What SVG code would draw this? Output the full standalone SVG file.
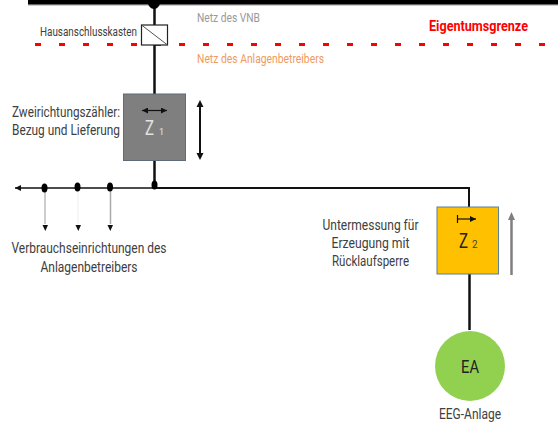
<svg xmlns="http://www.w3.org/2000/svg" width="558" height="427" viewBox="0 0 558 427">
<style>
text{font-family:Roboto,"Noto Sans","Liberation Sans",sans-serif;font-size:12px;fill:#404040}
.c{text-anchor:middle}
.w{fill:none;stroke:#111;stroke-width:2.5}
.t{fill:none;stroke:#111;stroke-width:1.2}
</style>
<defs>
<marker id="a" markerUnits="userSpaceOnUse" markerWidth="7" markerHeight="6" refX="6" refY="3" orient="auto-start-reverse"><path d="M0 0L6 3L0 6Z" fill="#111"/></marker>
</defs>
<rect width="558" height="427" fill="#fff"/>
<g id="connectors">
<path d="M28 5H558" fill="none" stroke="#999" stroke-width="1"/>
<path d="M28 2H558" fill="none" stroke="#000" stroke-width="5"/>
<path d="M35 44.500H548" fill="none" stroke="#f00" stroke-width="3" stroke-dasharray="6 18"/>
<path class="w" d="M154.500 5V25M154.500 45V94M154.500 160V188"/>
<path fill="none" stroke="#111" stroke-width="2" d="M154 188H469V207"/>
<path class="w" d="M469.500 274V330"/>
<path fill="none" stroke="#111" stroke-width="1.600" d="M154 188H15" marker-end="url(#a)"/>
<path fill="none" stroke="#999" stroke-width="1" d="M45 188V224"/>
<path fill="none" stroke="#eee" stroke-width="1" d="M78 188V224"/>
<path fill="none" stroke="#aaa" stroke-width="1.500" d="M110.500 188V224"/>
<path d="M42.500 225H48L45.300 231ZM75.500 225H81L78.300 231ZM107.500 225H113L110.300 231Z" fill="#111"/>
<path d="M200 106V154" fill="none" stroke="#111" stroke-width="2"/>
<path d="M200 100L203.500 107H196.500ZM200 160L203.500 153H196.500Z" fill="#111"/>
<path d="M511.500 275V217" fill="none" stroke="#7f7f7f" stroke-width="2.500"/>
<path d="M511.500 212L515 220H508Z" fill="#7f7f7f"/>
<ellipse cx="154" cy="2.500" rx="6" ry="6.500" fill="#000"/>
<ellipse cx="44.500" cy="188" rx="3" ry="4.500" fill="#000"/>
<ellipse cx="77.500" cy="187" rx="3" ry="4.500" fill="#000"/>
<ellipse cx="110" cy="187" rx="3" ry="4.500" fill="#000"/>
<ellipse cx="154.500" cy="185" rx="3" ry="4.500" fill="#000"/>
</g>
<g id="hausanschlusskasten">
<rect x="141.500" y="25" width="26" height="20" fill="#fff" stroke="#222" stroke-width="1.200"/>
<path d="M141.500 25L167.500 45" stroke="#555" stroke-width="1"/>
<text x="40" y="36" textLength="97" lengthAdjust="spacingAndGlyphs" style="font-size:12px">Hausanschlusskasten</text>
</g>
<g id="labels">
<text x="197" y="22" style="fill:#999;font-size:13px" textLength="63" lengthAdjust="spacingAndGlyphs">Netz des VNB</text>
<text x="197" y="63" style="fill:#f09a5e;font-size:13px" textLength="127" lengthAdjust="spacingAndGlyphs">Netz des Anlagenbetreibers</text>
<text x="429" y="31" style="fill:#f00;font-weight:700;font-size:14px" textLength="99" lengthAdjust="spacingAndGlyphs">Eigentumsgrenze</text>
</g>
<g id="z1">
<rect x="123.500" y="94" width="62" height="66.500" fill="#7f7f7f" stroke="#5f6b78" stroke-width="1"/>
<path class="t" d="M142 110.500H167" marker-start="url(#a)" marker-end="url(#a)"/>
<text x="145" y="135" style="fill:#e2e2e2;font-size:20px" textLength="9" lengthAdjust="spacingAndGlyphs">Z</text>
<text x="159" y="135" style="fill:#e2e2e2;font-size:9px">1</text>
<text x="12" y="117" style="font-size:14.500px" textLength="108" lengthAdjust="spacingAndGlyphs">Zweirichtungszähler:</text>
<text x="12" y="135" style="font-size:14.500px" textLength="108" lengthAdjust="spacingAndGlyphs">Bezug und Lieferung</text>
</g>
<g id="verbraucher">
<text x="89" y="253" class="c" style="font-size:14.500px" textLength="155" lengthAdjust="spacingAndGlyphs">Verbrauchseinrichtungen  des</text>
<text x="89" y="272" class="c" style="font-size:14.500px" textLength="97" lengthAdjust="spacingAndGlyphs">Anlagenbetreibers</text>
</g>
<g id="z2">
<rect x="437" y="207" width="61.500" height="67" fill="#ffc000" stroke="#5b7f95" stroke-width="1"/>
<path class="t" d="M457.500 219H476" marker-end="url(#a)"/>
<path class="t" d="M457.500 215V223"/>
<text x="459" y="248" style="fill:#222;font-size:20px" textLength="9" lengthAdjust="spacingAndGlyphs">Z</text>
<text x="472" y="248" style="fill:#444;font-size:10px">2</text>
<text x="370.500" y="230" class="c" style="font-size:14.500px" textLength="96" lengthAdjust="spacingAndGlyphs">Untermessung  für</text>
<text x="370.500" y="248" class="c" style="font-size:14.500px" textLength="78" lengthAdjust="spacingAndGlyphs">Erzeugung mit</text>
<text x="370.500" y="266" class="c" style="font-size:14.500px" textLength="77" lengthAdjust="spacingAndGlyphs">Rücklaufsperre</text>
</g>
<g id="ea">
<circle cx="470" cy="366" r="35" fill="#92d050"/>
<text x="470" y="373" class="c" style="fill:#222;font-size:18px" textLength="18" lengthAdjust="spacingAndGlyphs">EA</text>
<text x="470" y="419" class="c" style="font-size:14.500px" textLength="62" lengthAdjust="spacingAndGlyphs">EEG-Anlage</text>
</g>
</svg>
